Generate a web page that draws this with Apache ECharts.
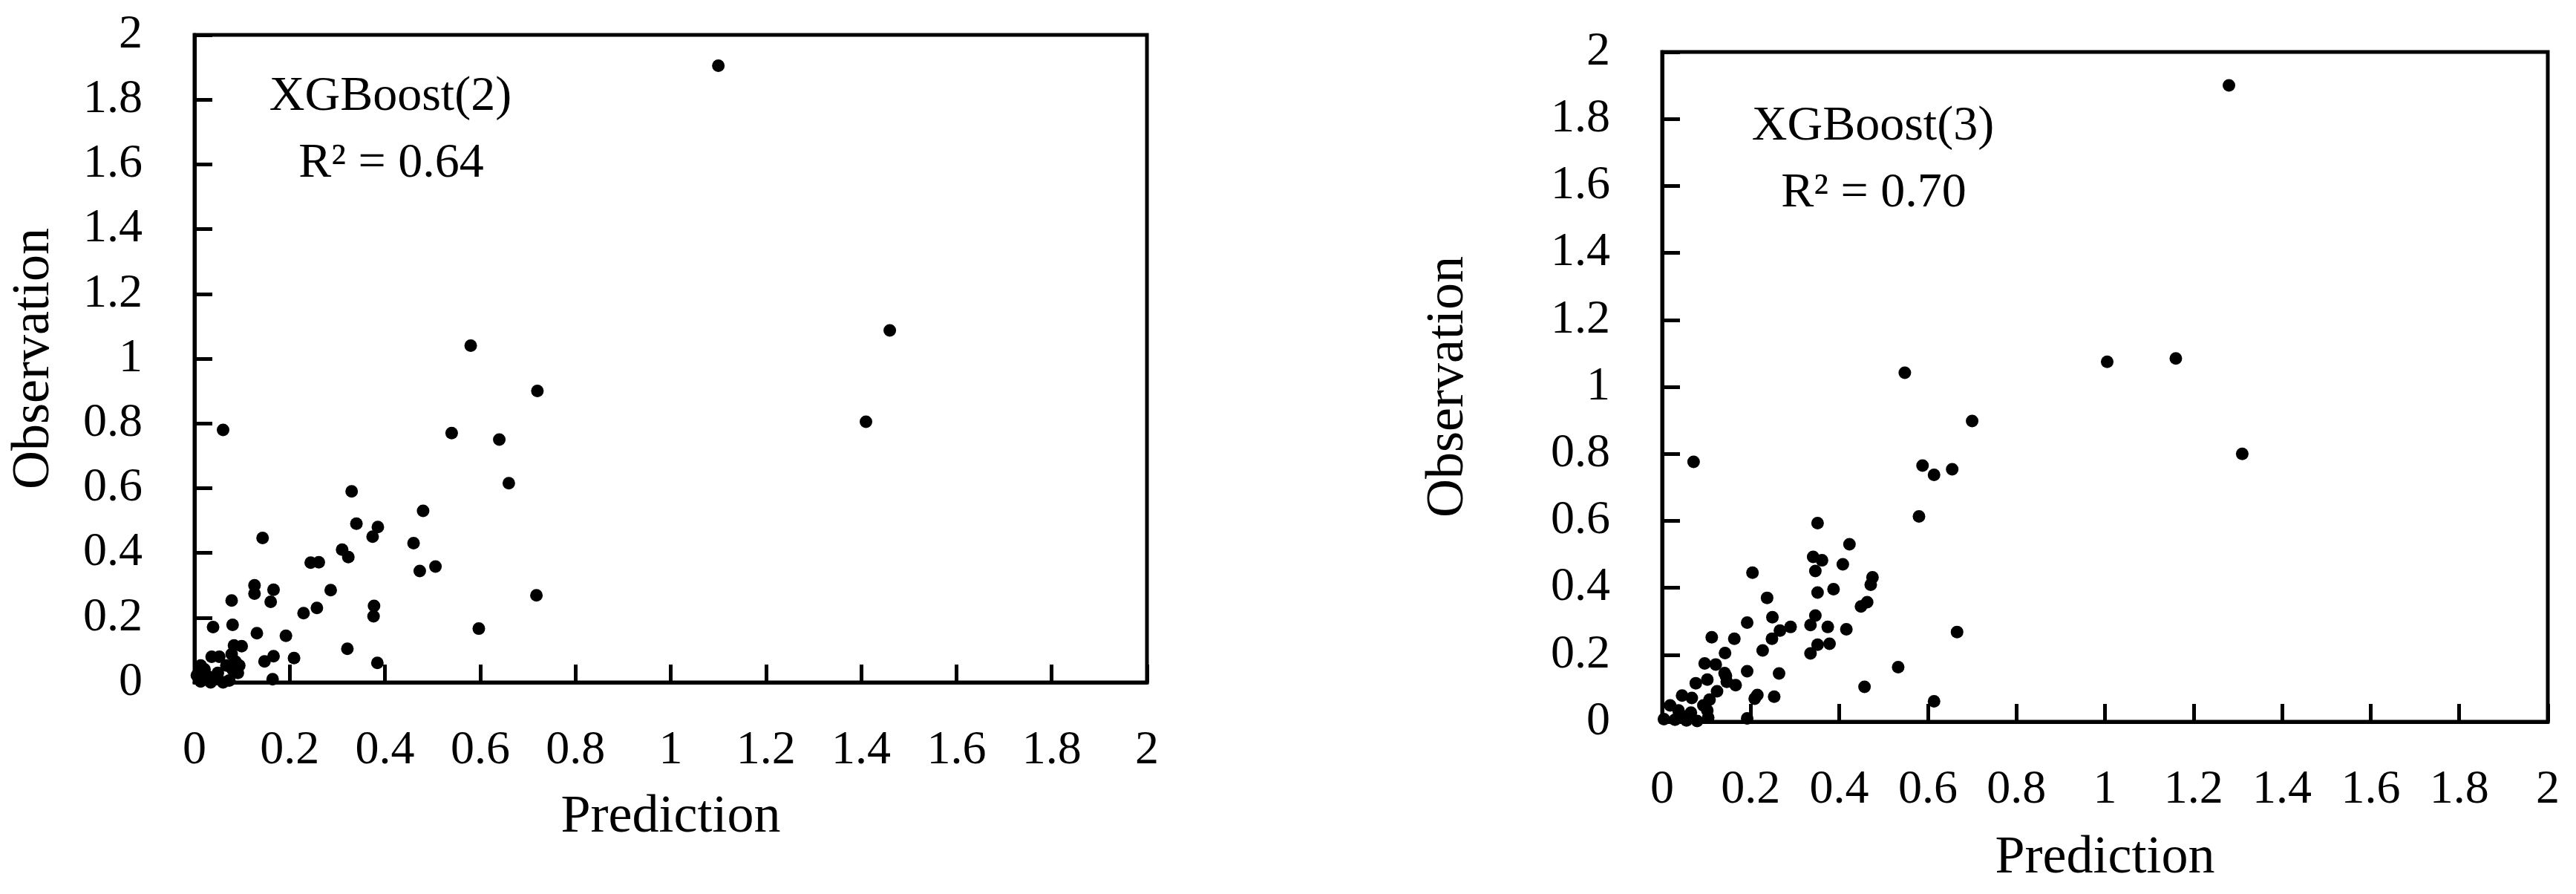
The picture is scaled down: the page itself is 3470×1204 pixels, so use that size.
<!DOCTYPE html>
<html><head><meta charset="utf-8">
<script src="https://cdn.jsdelivr.net/npm/echarts@6/dist/echarts.min.js"></script>
<style>html,body{margin:0;padding:0;background:#fff}#c{width:3470px;height:1204px}</style>
</head><body><div id="c"></div>
<script>
// XGBoost(2)
const pred2 = [0.58,0.72,0.06,0.54,0.64,0.66,0.33,0.48,0.34,0.385,0.374,0.143,0.46,0.31,0.323,0.244,0.261,0.506,0.473,0.126,0.126,0.166,0.16,0.286,0.078,0.718,0.257,0.377,0.376,0.229,0.039,0.08,0.597,0.131,0.192,0.083,0.099,0.321,0.036,0.052,0.166,0.147,0.209,0.384,0.164,1.10,1.46,1.41,0.078,0.086,0.013,0.005,0.029,0.049,0.073,0.091,0.034,0.013,0.06,0.094,0.067,0.021,0.045,0.08];
const obs2  = [1.04,0.90,0.78,0.77,0.75,0.615,0.59,0.53,0.49,0.48,0.45,0.446,0.43,0.41,0.387,0.37,0.371,0.358,0.344,0.30,0.274,0.286,0.249,0.285,0.253,0.269,0.23,0.236,0.204,0.214,0.171,0.178,0.166,0.152,0.144,0.114,0.112,0.104,0.079,0.079,0.081,0.065,0.075,0.06,0.01,1.905,1.087,0.805,0.087,0.064,0.052,0.022,0.018,0.029,0.006,0.029,0.0,0.003,0.0,0.052,0.052,0.04,0.01,0.04];
// XGBoost(3)
const pred3 = [0.548,0.70,0.071,0.588,0.614,0.655,0.58,0.351,0.423,0.341,0.361,0.408,0.346,0.204,0.475,0.471,0.387,0.351,0.237,0.463,0.449,0.249,0.346,0.192,0.335,0.374,0.29,0.266,0.416,0.248,0.163,0.112,0.351,0.378,0.666,0.142,0.227,0.335,0.096,0.121,0.533,0.192,0.141,0.264,0.146,0.166,0.102,0.076,0.124,0.457,0.215,0.209,0.253,0.614,0.192,0.045,0.067,0.107,0.018,0.144,0.093,0.037,0.065,0.102,0.004,0.029,0.055,0.079,0.104,0.043,1.28,1.005,1.16,1.31];
const obs3  = [1.042,0.898,0.776,0.765,0.737,0.754,0.613,0.593,0.53,0.492,0.482,0.47,0.45,0.445,0.431,0.409,0.396,0.386,0.37,0.357,0.344,0.312,0.317,0.296,0.289,0.283,0.283,0.272,0.276,0.248,0.248,0.252,0.23,0.233,0.268,0.205,0.213,0.204,0.174,0.171,0.163,0.151,0.145,0.144,0.119,0.109,0.126,0.115,0.091,0.104,0.08,0.069,0.075,0.061,0.01,0.078,0.071,0.066,0.049,0.137,0.049,0.034,0.027,0.034,0.008,0.006,0.004,0.002,0.012,0.018,1.90,1.075,1.085,0.80];

const tickLabels = ['0','0.2','0.4','0.6','0.8','1','1.2','1.4','1.6','1.8','2'];
const panelTitles = ['XGBoost(2)','XGBoost(3)'];
const r2Texts = ['R\u00b2 = 0.64','R\u00b2 = 0.70'];
const xName = 'Prediction';
const yName = 'Observation';

const FONT = "'Liberation Serif','Times New Roman',serif";
const LW = 5;

function pairs(xs, ys){ return xs.map((x,i)=>[x, ys[i]]); }
function fmt(v){ const i = Math.round(v/0.2); return tickLabels[i] !== undefined ? tickLabels[i] : ''; }

const grids = [
  {left:262, top:47, width:1283, height:872},
  {left:2239, top:70, width:1193, height:902}
];
const yNameGaps = [180, 252];
const xNameGaps = [146, 148];

const option = {
  backgroundColor:'#fff',
  animation:false,
  grid: grids.map(g=>Object.assign({show:true, borderColor:'#000', borderWidth:LW, backgroundColor:'transparent'}, g)),
  xAxis: grids.map((g,i)=>({
    type:'value', gridIndex:i, min:0, max:2, interval:0.2,
    name:xName, nameLocation:'middle', nameGap:xNameGaps[i],
    nameTextStyle:{fontFamily:FONT, fontSize:72, color:'#000'},
    axisLine:{show:true, onZero:false, lineStyle:{color:'#000', width:LW}},
    axisTick:{show:true, inside:true, length:24, lineStyle:{color:'#000', width:LW}},
    axisLabel:{show:true, margin:60, fontFamily:FONT, fontSize:64, color:'#000', formatter:fmt, showMinLabel:true, showMaxLabel:true},
    splitLine:{show:false}
  })),
  yAxis: grids.map((g,i)=>({
    type:'value', gridIndex:i, min:0, max:2, interval:0.2,
    name:yName, nameLocation:'middle', nameGap:yNameGaps[i], nameRotate:90,
    nameTextStyle:{fontFamily:FONT, fontSize:72, color:'#000'},
    axisLine:{show:true, onZero:false, lineStyle:{color:'#000', width:LW}},
    axisTick:{show:true, inside:true, length:24, lineStyle:{color:'#000', width:LW}},
    axisLabel:{show:true, margin:70, fontFamily:FONT, fontSize:64, color:'#000', formatter:fmt, showMinLabel:true, showMaxLabel:true},
    splitLine:{show:false}
  })),
  series: [
    {type:'scatter', xAxisIndex:0, yAxisIndex:0, data:pairs(pred2, obs2), symbol:'circle', symbolSize:17, itemStyle:{color:'#000', opacity:1}, clip:false},
    {type:'scatter', xAxisIndex:1, yAxisIndex:1, data:pairs(pred3, obs3), symbol:'circle', symbolSize:17, itemStyle:{color:'#000', opacity:1}, clip:false}
  ],
  graphic: [
    {type:'text', x:526, y:131, style:{text:panelTitles[0], font:'66px '+FONT, fill:'#000', align:'center', verticalAlign:'middle', textAlign:'center', textVerticalAlign:'middle'}},
    {type:'text', x:527, y:221, style:{text:r2Texts[0], font:'66px '+FONT, fill:'#000', align:'center', verticalAlign:'middle', textAlign:'center', textVerticalAlign:'middle'}},
    {type:'text', x:2523, y:171, style:{text:panelTitles[1], font:'66px '+FONT, fill:'#000', align:'center', verticalAlign:'middle', textAlign:'center', textVerticalAlign:'middle'}},
    {type:'text', x:2524, y:261, style:{text:r2Texts[1], font:'66px '+FONT, fill:'#000', align:'center', verticalAlign:'middle', textAlign:'center', textVerticalAlign:'middle'}}
  ]
};
const chart = echarts.init(document.getElementById('c'), null, {renderer:'canvas'});
chart.setOption(option);
</script></body></html>
